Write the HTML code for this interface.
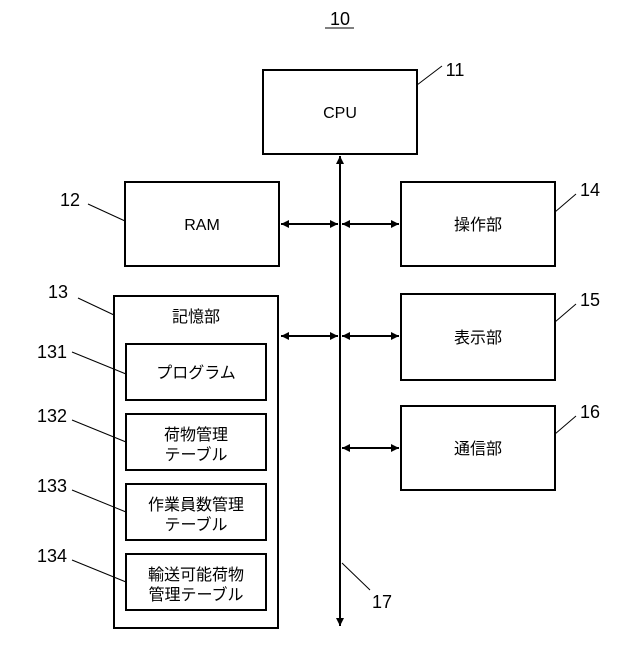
<!DOCTYPE html>
<html><head><meta charset="utf-8"><style>body{margin:0;background:#fff}</style></head><body>
<svg width="640" height="640" viewBox="0 0 640 640" xmlns="http://www.w3.org/2000/svg" font-family="'Liberation Sans','Noto Sans CJK JP',sans-serif" fill="none" stroke="#000">
<defs><marker id="a" viewBox="0 0 10 10" refX="10" refY="5" markerWidth="10" markerHeight="8" markerUnits="userSpaceOnUse" orient="auto-start-reverse"><path d="M0,0L10,5L0,10z" fill="#000" stroke="none"/></marker></defs>
<g stroke-width="2">
<rect x="263" y="70" width="154" height="84"/>
<rect x="125" y="182" width="154" height="84"/>
<rect x="401" y="182" width="154" height="84"/>
<rect x="401" y="294" width="154" height="86"/>
<rect x="401" y="406" width="154" height="84"/>
<rect x="114" y="296" width="164" height="332"/>
<rect x="126" y="344" width="140" height="56"/>
<rect x="126" y="414" width="140" height="56"/>
<rect x="126" y="484" width="140" height="56"/>
<rect x="126" y="554" width="140" height="56"/>
<line x1="340" y1="626" x2="340" y2="156" marker-end="url(#a)" marker-start="url(#a)"/>
<line x1="281" y1="224" x2="338" y2="224" marker-end="url(#a)" marker-start="url(#a)"/>
<line x1="342" y1="224" x2="399" y2="224" marker-end="url(#a)" marker-start="url(#a)"/>
<line x1="281" y1="336" x2="338" y2="336" marker-end="url(#a)" marker-start="url(#a)"/>
<line x1="342" y1="336" x2="399" y2="336" marker-end="url(#a)" marker-start="url(#a)"/>
<line x1="342" y1="448" x2="399" y2="448" marker-end="url(#a)" marker-start="url(#a)"/>
</g>
<g stroke-width="1">
<line x1="417" y1="85" x2="442" y2="66"/>
<line x1="88" y1="204" x2="125" y2="221"/>
<line x1="555" y1="212" x2="576" y2="194"/>
<line x1="555" y1="322" x2="576" y2="304"/>
<line x1="555" y1="434" x2="576" y2="416"/>
<line x1="78" y1="298" x2="114" y2="315"/>
<line x1="72" y1="352" x2="126" y2="374"/>
<line x1="72" y1="420" x2="126" y2="442"/>
<line x1="72" y1="490" x2="126" y2="512"/>
<line x1="72" y1="560" x2="126" y2="582"/>
<line x1="342" y1="563" x2="370" y2="590"/>
<line x1="325" y1="28" x2="354" y2="28"/>
</g>
<g fill="#000" stroke="none" font-size="16" text-anchor="middle">
<text x="340" y="25" font-size="18">10</text>
<text x="340" y="118">CPU</text>
<text x="202" y="230">RAM</text>
<text x="478" y="230">操作部</text>
<text x="478" y="343">表示部</text>
<text x="478" y="454">通信部</text>
<text x="196" y="322">記憶部</text>
<text x="196" y="378">プログラム</text>
<text x="196" y="440">荷物管理</text>
<text x="196" y="460">テーブル</text>
<text x="196" y="510">作業員数管理</text>
<text x="196" y="530">テーブル</text>
<text x="196" y="580">輸送可能荷物</text>
<text x="196" y="600">管理テーブル</text>
<g font-size="18">
<text x="455" y="76">11</text>
<text x="70" y="206">12</text>
<text x="590" y="196">14</text>
<text x="590" y="306">15</text>
<text x="590" y="418">16</text>
<text x="58" y="298">13</text>
<text x="52" y="358">131</text>
<text x="52" y="422">132</text>
<text x="52" y="492">133</text>
<text x="52" y="562">134</text>
<text x="382" y="608">17</text>
</g>
</g>
</svg>
</body></html>
